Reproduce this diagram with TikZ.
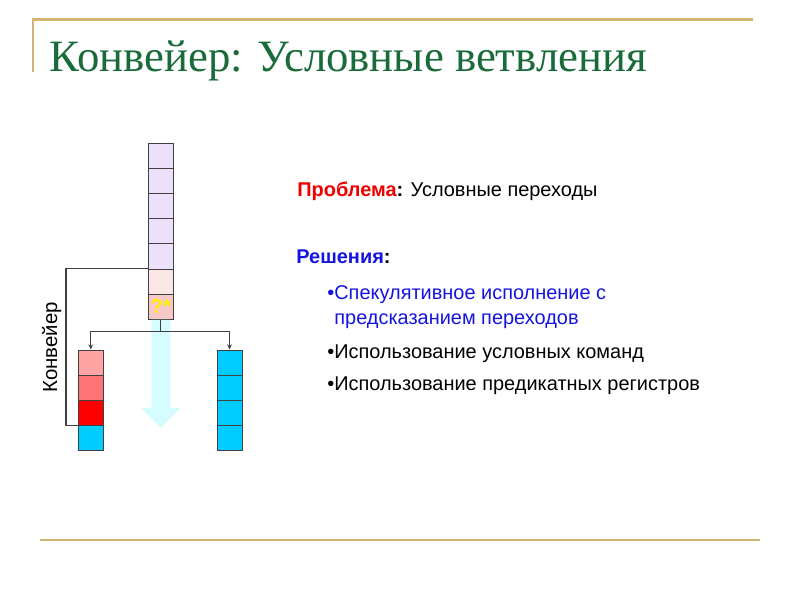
\documentclass[tikz,border=0pt]{standalone}
\usepackage{fontspec}
\setmainfont{Liberation Sans}
\newfontfamily\titlefont{Liberation Serif}
\usetikzlibrary{arrows.meta,positioning,calc}
\definecolor{slidegreen}{HTML}{1A6B3A}
\definecolor{slidegold}{HTML}{D2B46E}
\definecolor{stackline}{HTML}{404040}
\definecolor{lilac}{HTML}{ECE0FA}
\definecolor{palepink}{HTML}{FBE6E6}
\definecolor{rosepink}{HTML}{F6C8C8}
\definecolor{redA}{HTML}{FFA3A3}
\definecolor{redB}{HTML}{FF7575}
\definecolor{redC}{HTML}{FF0000}
\definecolor{skycyan}{HTML}{00CCFF}
\definecolor{flowcyan}{HTML}{D5FDFF}
\definecolor{probred}{HTML}{EE0000}
\definecolor{solblue}{HTML}{1414E0}

\begin{document}
\begin{tikzpicture}[x=0.02cm, y=-0.02cm, >={Stealth[length=3pt,width=2.6pt]},
  every node/.style={font=\fontsize{11.35}{13.6}\selectfont, inner sep=0pt},
  cell/.style={draw=stackline, line width=0.5pt, minimum width=0.5cm, minimum height=0.504cm},
  wire/.style={draw=stackline, line width=0.6pt}]
  \fill[white] (0,0) rectangle (800,600);
  \useasboundingbox (0,0) rectangle (800,600);

  % frame lines and title
  \draw[slidegold, line width=1.4pt] (33,72) -- (33,19.7) -- (753,19.7);
  \draw[slidegold, line width=1.4pt] (40,540) -- (760,540);
  \node[anchor=base west, font=\titlefont\fontsize{25.5}{30}\selectfont, text=slidegreen] (title) at (49,71) {Конвейер: Условные ветвления};

  % stacks
  \foreach \i/\c in {1/lilac,2/lilac,3/lilac,4/lilac,5/lilac,6/palepink,7/rosepink}
    \node[cell, fill=\c] (t\i) at (160.8, {130.4+\i*25.2}) {};
  \foreach \i/\c in {1/redA,2/redB,3/redC,4/skycyan}
    \node[cell, fill=\c] (l\i) at (90.8, {337.4+\i*25.2}) {};
  \foreach \i in {1,...,4}
    \node[cell, fill=skycyan] (r\i) at (229.5, {337.4+\i*25.2}) {};
  \node[font=\bfseries\fontsize{11.5}{12}\selectfont, text=yellow] (guess) at (t7) {?*};

  % flow arrow
  \fill[flowcyan] ($(t7.south)+(-9.5,0)$) -- ++(0,88) -- ++(-10,0) -- ($(t7.south)+(0,108)$)
    -- ($(t7.south)+(19.5,88)$) -- ++(-10,0) -- ($(t7.south)+(9.5,0)$) -- cycle;

  % connectors
  \coordinate (bend) at (66,0);
  \draw[wire] (t6.north west) -- (t6.north west -| bend) |- (l4.north west);
  \draw[wire] (t7.south) -- ++(0,12) coordinate (fork);
  \draw[wire, ->] (fork) -| (l1.north);
  \draw[wire, ->] (fork) -| (r1.north);

  \node[rotate=90, anchor=base, font=\fontsize{11.6}{14}\selectfont] (pipe) at (57,347.5) {Конвейер};

  % text
  \node[anchor=base west] (problem) at (297,196) {{\bfseries\textcolor{probred}{Проблема}:} Условные переходы};
  \node[anchor=base west, font=\bfseries\fontsize{11.35}{13.6}\selectfont] (solutions) at (296,263) {\textcolor{solblue}{Решения}:};
  \node[anchor=base west, text=solblue] (spec) at (327,299) {•Спекулятивное исполнение с};
  \node[anchor=base west, text=solblue] (spec2) at (334,324) {предсказанием переходов};
  \node[anchor=base west] (cond) at (327,358) {•Использование условных команд};
  \node[anchor=base west] (pred) at (327,390) {•Использование предикатных регистров};
\end{tikzpicture}
\end{document}
